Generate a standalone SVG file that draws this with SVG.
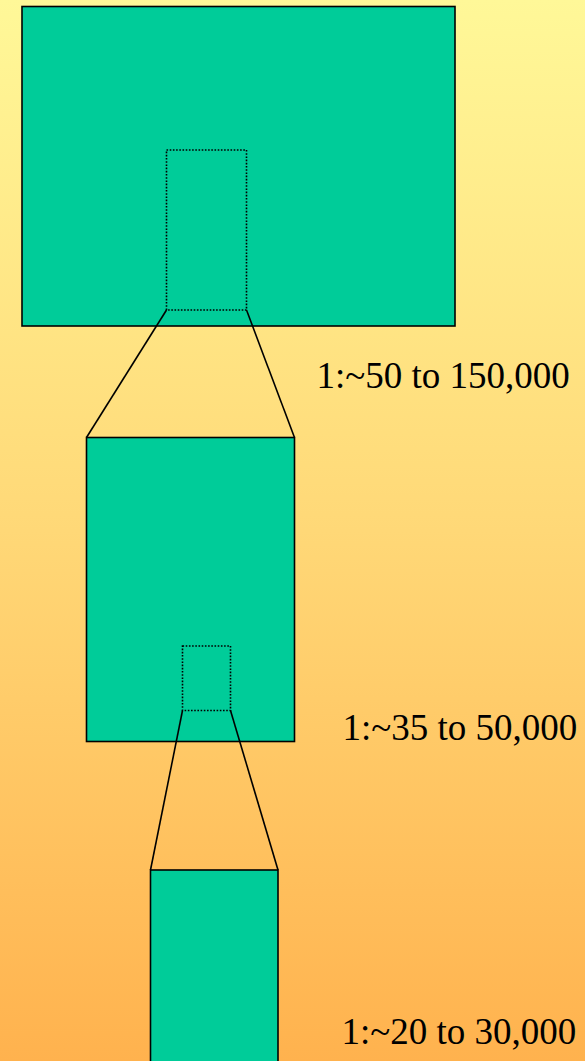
<svg xmlns="http://www.w3.org/2000/svg" width="585" height="1061" viewBox="0 0 585 1061">
<defs>
<linearGradient id="bg" x1="0" y1="0" x2="0" y2="1">
<stop offset="0" stop-color="#FFF898"/>
<stop offset="0.5" stop-color="#FFD877"/>
<stop offset="1" stop-color="#FFB24E"/>
</linearGradient>
<style>
.box{fill:#00CC99;stroke:#000;stroke-width:1.6}
.zoom{fill:none;stroke:#000;stroke-width:1.6;stroke-dasharray:1.6 1.6}
.ln{stroke:#000;stroke-width:1.6;fill:none}
.lbl{font-family:"Liberation Serif","Times New Roman",serif;font-size:37px;fill:#000}
</style>
</defs>
<rect x="0" y="0" width="585" height="1061" fill="url(#bg)"/>
<g id="level1">
<rect class="box" x="22" y="6.5" width="433" height="319.5"/>
<rect class="zoom" x="166.5" y="150" width="80" height="160"/>
</g>
<g id="level2">
<rect class="box" x="86.5" y="437.5" width="208" height="304"/>
<rect class="zoom" x="182.5" y="646" width="48" height="64.5"/>
</g>
<g id="level3">
<rect class="box" x="150.5" y="870" width="127.5" height="200"/>
</g>
<g id="connectors">
<line class="ln" x1="166.5" y1="310" x2="86.5" y2="437.5"/>
<line class="ln" x1="246.5" y1="310" x2="294.5" y2="437.5"/>
<line class="ln" x1="182.5" y1="710.5" x2="150.5" y2="870"/>
<line class="ln" x1="230.5" y1="710.5" x2="278" y2="870"/>
</g>
<g id="labels">
<text class="lbl" x="316.5" y="388">1:~50 to 150,000</text>
<text class="lbl" x="342.5" y="740">1:~35 to 50,000</text>
<text class="lbl" x="341.5" y="1044">1:~20 to 30,000</text>
</g>
</svg>
